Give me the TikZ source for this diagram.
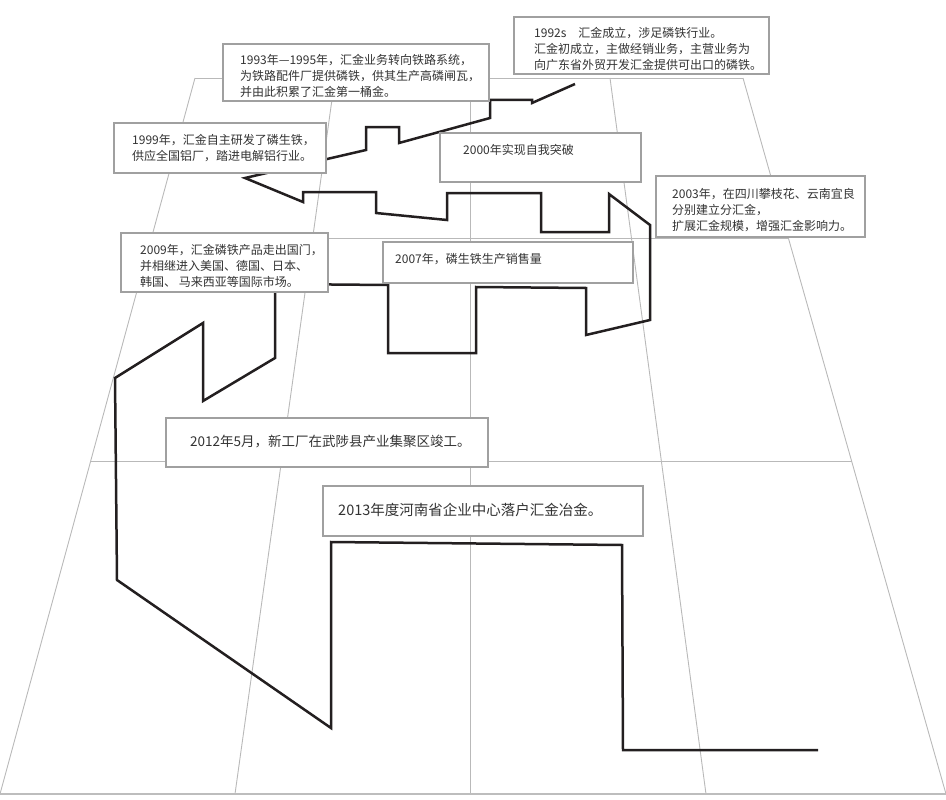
\documentclass[tikz,border=0pt]{standalone}
\usepackage{fontspec}
\setmainfont{Noto Sans CJK SC}
\usetikzlibrary{calc}
\definecolor{gridc}{HTML}{B9B9B9}
\definecolor{basec}{HTML}{BDBDBD}
\definecolor{boxc}{HTML}{A0A0A0}
\definecolor{trailc}{HTML}{231F20}
\definecolor{txtc}{HTML}{333333}
\begin{document}
\begin{tikzpicture}[x=1pt,y=-1pt,
  gridline/.style={draw=gridc, line width=0.9pt},
  baseline/.style={draw=basec, line width=2.6pt},
  trail/.style={draw=trailc, line width=2.5pt, line join=miter},
  box/.style={draw=boxc, line width=1.8pt, fill=white, rectangle, inner sep=0pt, anchor=north west},
  txt/.style={anchor=north west, inner sep=0pt, align=left, text=txtc, font=\fontsize{12}{16}\selectfont},
  bigtxt/.style={txt, font=\fontsize{13.5}{16}\selectfont},
  hugetxt/.style={txt, font=\fontsize{14.5}{17}\selectfont}]
\useasboundingbox (0,0) rectangle (946,800);
% grid corners
\coordinate (tl) at (195,78);
\coordinate (t2) at (335,78);
\coordinate (t3) at (470,78);
\coordinate (t4) at (610,78);
\coordinate (tr) at (743,78);
\coordinate (bl) at (0,794);
\coordinate (b2) at (235,794);
\coordinate (b3) at (470,794);
\coordinate (b4) at (706,794);
\coordinate (br) at (946,794);
\draw[gridline] (tl) -- (bl);
\draw[gridline] (t2) -- (b2);
\draw[gridline] (t3) -- (b3);
\draw[gridline] (t4) -- (b4);
\draw[gridline] (tr) -- (br);
\draw[gridline] (tl) -- (tr);
\draw[gridline] ($(tl)!0.2235!(bl)$) -- ($(tr)!0.2235!(br)$);
\draw[gridline] ($(tl)!0.536!(bl)$) -- ($(tr)!0.536!(br)$);
\draw[baseline] (bl) -- (br);
% trail
\draw[trail] (575,84) -- (532,103) -- (532,100) -- (490,100) -- (490,118) -- (399,143)
  -- (399,127) -- (366,127) -- (366,150) -- (245,178) -- (303,202) -- (303,192)
  -- (376,192) -- (376,213) -- (447,220) -- (447,193) -- (541,193) -- (541,232)
  -- (609,232) -- (609,194) -- (650,225) -- (650,320) -- (586,335) -- (586,288)
  -- (476,287) -- (476,353) -- (388,353) -- (388,285) -- (275,284) -- (275,358)
  -- (203,401) -- (203,323) -- (115,378) -- (117,580) -- (331,728) -- (331,542)
  -- (622,545) -- (623,750) -- (818,750);
% boxes
\node[box, minimum width=255pt, minimum height=57pt] (b1992) at (513,16) {};
\node[txt] (t1992) at (534,27) {1992s\quad 汇金成立，涉足磷铁行业。\\汇金初成立，主做经销业务，主营业务为\\向广东省外贸开发汇金提供可出口的磷铁。};
\node[box, minimum width=266pt, minimum height=57pt] (b1993) at (222,43) {};
\node[txt] (t1993) at (240,54) {1993年—1995年，汇金业务转向铁路系统，\\为铁路配件厂提供磷铁，供其生产高磷闸瓦，\\并由此积累了汇金第一桶金。};
\node[box, minimum width=212pt, minimum height=50pt] (b1999) at (113,122) {};
\node[txt] (t1999) at (132,134) {1999年，汇金自主研发了磷生铁，\\供应全国铝厂，踏进电解铝行业。};
\node[box, minimum width=201pt, minimum height=49pt] (b2000) at (439,132) {};
\node[txt] (t2000) at (463,144) {2000年实现自我突破};
\node[box, minimum width=209pt, minimum height=61pt] (b2003) at (655,175) {};
\node[txt] (t2003) at (672,188) {2003年，在四川攀枝花、云南宜良\\分别建立分汇金，\\扩展汇金规模，增强汇金影响力。};
\node[box, minimum width=207pt, minimum height=59pt] (b2009) at (120,232) {};
\node[txt] (t2009) at (140,244) {2009年，汇金磷铁产品走出国门，\\并相继进入美国、德国、日本、\\韩国、 马来西亚等国际市场。};
\node[box, minimum width=250pt, minimum height=41pt] (b2007) at (382,241) {};
\node[txt] (t2007) at (395,253) {2007年，磷生铁生产销售量};
\node[box, minimum width=322pt, minimum height=49pt] (b2012) at (165,417) {};
\node[bigtxt] (t2012) at (190,435) {2012年5月，新工厂在武陟县产业集聚区竣工。};
\node[box, minimum width=320pt, minimum height=50pt] (b2013) at (322,485) {};
\node[hugetxt] (t2013) at (338,503) {2013年度河南省企业中心落户汇金冶金。};
\end{tikzpicture}
\end{document}
